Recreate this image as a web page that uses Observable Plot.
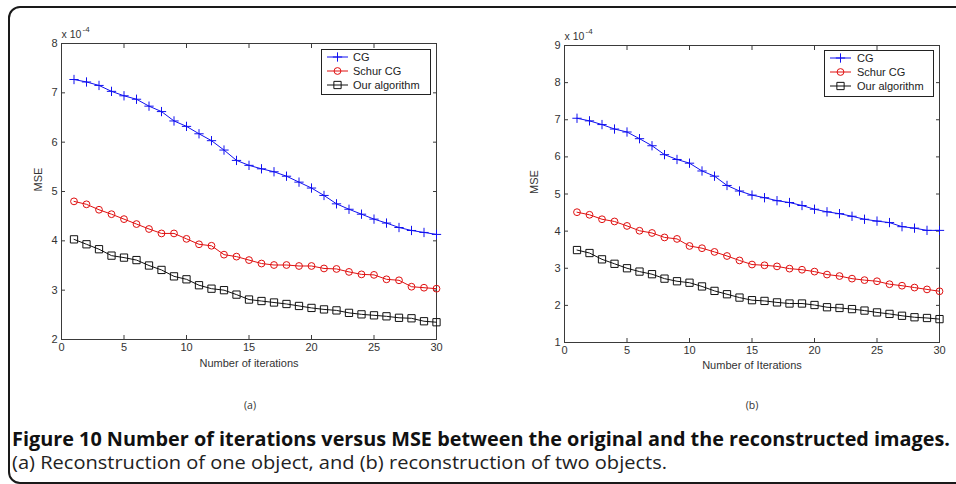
<!DOCTYPE html>
<html><head><meta charset="utf-8">
<script src="https://cdn.jsdelivr.net/npm/d3@7"></script>
<script src="https://cdn.jsdelivr.net/npm/@observablehq/plot@0.6"></script>
<style>
html,body{margin:0;padding:0;background:#fff;}
#wrap{position:relative;width:956px;height:484px;overflow:hidden;background:#fff;}
#frame{position:absolute;left:8px;top:6px;width:990px;height:474px;border:2px solid #1a1a1a;border-radius:12px;}
.panel{position:absolute;top:0;}
.legend{position:absolute;}
#cap{position:absolute;left:0;top:380px;}
</style>
</head><body>
<div id="wrap"><div id="frame"></div></div>
<script>
const iterations = d3.range(1, 31);
const seriesNames = ["CG", "Schur CG", "Our algorithm"];
// Panel (a): reconstruction of one object (x 10^-4)
const cgA = [7.27,7.22,7.15,7.03,6.94,6.87,6.73,6.62,6.43,6.32,6.17,6.03,5.84,5.63,5.53,5.46,5.40,5.31,5.19,5.07,4.92,4.75,4.64,4.54,4.44,4.36,4.27,4.21,4.17,4.13];
const schurA = [4.80,4.74,4.63,4.54,4.44,4.34,4.24,4.15,4.15,4.04,3.93,3.90,3.72,3.68,3.61,3.54,3.51,3.51,3.49,3.49,3.44,3.43,3.37,3.32,3.31,3.22,3.20,3.07,3.05,3.03];
const oursA = [4.03,3.93,3.83,3.70,3.66,3.61,3.50,3.41,3.28,3.22,3.10,3.03,3.00,2.91,2.81,2.78,2.75,2.72,2.68,2.64,2.61,2.59,2.54,2.51,2.49,2.47,2.44,2.43,2.37,2.35];
// Panel (b): reconstruction of two objects (x 10^-4)
const cgB = [7.04,6.97,6.87,6.75,6.67,6.49,6.30,6.06,5.93,5.83,5.62,5.48,5.23,5.08,4.97,4.90,4.82,4.77,4.69,4.59,4.52,4.47,4.40,4.32,4.27,4.23,4.12,4.08,4.02,4.02];
const schurB = [4.51,4.44,4.32,4.26,4.14,4.01,3.95,3.83,3.79,3.60,3.54,3.44,3.33,3.21,3.10,3.08,3.05,2.99,2.96,2.91,2.83,2.79,2.72,2.68,2.65,2.57,2.53,2.48,2.43,2.38];
const oursB = [3.49,3.41,3.24,3.12,3.00,2.91,2.84,2.72,2.65,2.61,2.51,2.39,2.30,2.21,2.14,2.12,2.08,2.05,2.05,2.01,1.95,1.93,1.90,1.86,1.81,1.77,1.72,1.68,1.66,1.63];
const xTicks = [0,5,10,15,20,25,30];
const yTicksA = [2,3,4,5,6,7,8];
const yTicksB = [1,2,3,4,5,6,7,8,9];
const xLabelA = "Number of iterations";
const xLabelB = "Number of Iterations";
const yLabel = "MSE";
const exponentLabel = "x 10";
const exponentSup = "-4";
const panelTags = ["(a)", "(b)"];
const captionTitle = "Figure 10 Number of iterations versus MSE between the original and the reconstructed images.";
const captionText = "(a) Reconstruction of one object, and (b) reconstruction of two objects.";

const colors = {"CG":"#1010f0","Schur CG":"#e01010","Our algorithm":"#111111"};
const symbols = {"CG":"plus","Schur CG":"circle","Our algorithm":"square"};
const sizes = {"CG":3.1,"Schur CG":3.4,"Our algorithm":4.1};

function rows(cg, schur, ours){
  const out = [];
  [[seriesNames[0],cg],[seriesNames[1],schur],[seriesNames[2],ours]].forEach(([name,vals])=>{
    vals.forEach((v,i)=>out.push({series:name, x:iterations[i], y:v}));
  });
  return out;
}

const font = "Liberation Sans, Arial, sans-serif";
const axisColor = "#3a3a3a";
const intFmt = d3.format("d");

function panel(data, yDomain, yTicks, xLabel, opts){
  const marks = [];
  marks.push(Plot.frame({stroke: axisColor}));
  // inward ticks on all four sides
  marks.push(Plot.axisX({anchor:"bottom", ticks:xTicks, tickFormat:intFmt, tickSize:-4, tickPadding:8, stroke:axisColor, fill:"#333", fontSize:11, label:null}));
  marks.push(Plot.axisX({anchor:"top", ticks:xTicks, tickSize:-4, tickFormat:()=>"", stroke:axisColor, label:null}));
  marks.push(Plot.axisY({anchor:"left", ticks:yTicks, tickFormat:intFmt, tickSize:-4, tickPadding:8, stroke:axisColor, fill:"#333", fontSize:11, label:null}));
  marks.push(Plot.axisY({anchor:"right", ticks:yTicks, tickSize:-4, tickFormat:()=>"", stroke:axisColor, label:null}));
  seriesNames.forEach(name=>{
    const d = data.filter(r=>r.series===name);
    marks.push(Plot.line(d, {x:"x", y:"y", stroke:colors[name], strokeWidth:1}));
    marks.push(Plot.dot(d, {x:"x", y:"y", symbol:()=>symbols[name], r:sizes[name], stroke:colors[name], fill:"none", strokeWidth:1}));
  });
  marks.push(Plot.text([xLabel], {frameAnchor:"bottom", dy:opts.xLabelDy, text:d=>d, fontSize:11, fill:"#333", lineAnchor:"middle"}));
  marks.push(Plot.text([yLabel], {frameAnchor:"left", dx:opts.yLabelDx, text:d=>d, rotate:-90, fontSize:11, fill:"#333"}));
  marks.push(Plot.text([exponentLabel], {frameAnchor:"top-left", dy:-6, text:d=>d, textAnchor:"start", lineAnchor:"bottom", fontSize:10.5, fill:"#333"}));
  marks.push(Plot.text([exponentSup], {frameAnchor:"top-left", dx:21, dy:-12, text:d=>d, textAnchor:"start", lineAnchor:"bottom", fontSize:8, fill:"#333"}));
  return Plot.plot({
    width: opts.width, height: 380,
    marginLeft: opts.ml, marginRight: opts.mr, marginTop: opts.mt, marginBottom: opts.mb,
    style: {fontFamily: font, background:"transparent", overflow:"visible"},
    x: {domain:[0,30]},
    y: {domain:yDomain},
    marks
  });
}

function legend(left, top, w, h, sampleX0, sampleX1, textX, rowYs){
  const svg = d3.create("svg").attr("width", w+2).attr("height", h+2)
    .style("position","absolute").style("left", left+"px").style("top", top+"px").style("overflow","visible");
  svg.append("rect").attr("x",0.5).attr("y",0.5).attr("width",w).attr("height",h).attr("fill","#fff").attr("stroke","#222");
  seriesNames.forEach((name,i)=>{
    const y = rowYs[i];
    const g = svg.append("g");
    g.append("line").attr("x1",sampleX0).attr("x2",sampleX1).attr("y1",y).attr("y2",y).attr("stroke",colors[name]).attr("stroke-width",1);
    const cx = (sampleX0+sampleX1)/2;
    const sym = {"plus":d3.symbolPlus,"circle":d3.symbolCircle,"square":d3.symbolSquare}[symbols[name]];
    const r = sizes[name];
    g.append("path").attr("d", d3.symbol(sym, r*r*Math.PI)()).attr("transform",`translate(${cx},${y})`)
      .attr("fill","none").attr("stroke",colors[name]).attr("stroke-width",1);
    svg.append("text").attr("x",textX).attr("y",y).attr("dy","0.35em").attr("font-family",font)
      .attr("font-size",11).attr("fill","#222").text(name);
  });
  return svg.node();
}

const wrap = document.getElementById("wrap");
const pa = panel(rows(cgA, schurA, oursA), [2,8], yTicksA, xLabelA, {width:470, ml:61, mr:34, mt:43, mb:41, xLabelDy:24, yLabelDx:-23});
pa.classList.add("panel"); pa.style.left = "0px";
wrap.appendChild(pa);
const pb = panel(rows(cgB, schurB, oursB), [1,9], yTicksB, xLabelB, {width:476, ml:84, mr:17, mt:45, mb:38, xLabelDy:23, yLabelDx:-30});
pb.classList.add("panel"); pb.style.left = "480px";
wrap.appendChild(pb);

wrap.appendChild(legend(321, 49, 109, 45, 6, 27, 32, [8, 22, 36]));
wrap.appendChild(legend(824, 50, 109, 46, 6, 27, 33, [8, 22, 36]));

// caption
const cap = d3.create("svg").attr("width",956).attr("height",104).attr("id","cap");
cap.append("text").attr("x",250).attr("y",29).attr("text-anchor","middle").attr("font-family","Open Sans, sans-serif")
  .attr("font-size",10.5).attr("fill","#333").text(panelTags[0]);
cap.append("text").attr("x",752).attr("y",29).attr("text-anchor","middle").attr("font-family","Open Sans, sans-serif")
  .attr("font-size",10.5).attr("fill","#333").text(panelTags[1]);
cap.append("text").attr("x",12).attr("y",66).attr("font-family","Open Sans, sans-serif").attr("font-weight","bold")
  .attr("font-size",19).attr("fill","#111").attr("textLength",938).attr("lengthAdjust","spacingAndGlyphs").text(captionTitle);
cap.append("text").attr("x",12).attr("y",89).attr("font-family","Open Sans, sans-serif")
  .attr("font-size",17.5).attr("fill","#222").attr("textLength",655).attr("lengthAdjust","spacingAndGlyphs").text(captionText);
wrap.appendChild(cap.node());
</script>
</body></html>
